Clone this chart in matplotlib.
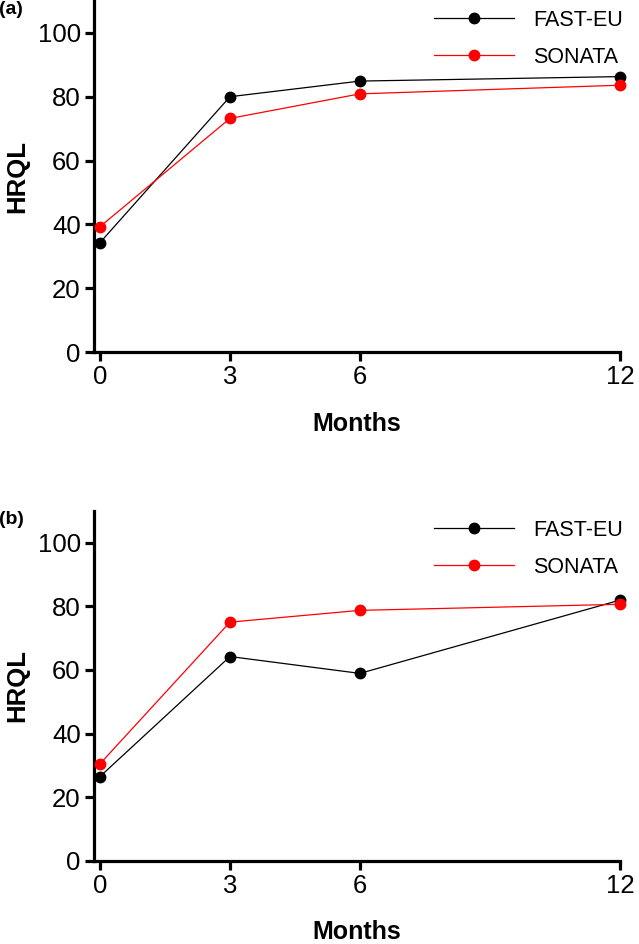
import matplotlib.pyplot as plt

months = [0, 3, 6, 12]

# panel (a)
fast_eu_a = [34.3, 80.0, 84.9, 86.3]
sonata_a = [39.3, 73.2, 80.9, 83.6]

# panel (b)
fast_eu_b = [26.5, 64.2, 58.9, 81.9]
sonata_b = [30.5, 75.0, 78.7, 80.6]

panel_labels = ["(a)", "(b)"]

plt.rcParams["font.family"] = ["Liberation Sans", "DejaVu Sans"]

fig = plt.figure(figsize=(6.39, 9.44), dpi=100)
ax_a = fig.add_axes([0.147, 0.627, 0.823, 0.372])
ax_b = fig.add_axes([0.147, 0.088, 0.823, 0.371])


def draw_panel(ax, fast_eu, sonata, label):
    ax.plot(months, fast_eu, color="black", lw=0.9, marker="o", ms=7.5,
            label="FAST-EU", clip_on=False, zorder=3)
    ax.plot(months, sonata, color="#ff0000", lw=0.9, marker="o", ms=7.5,
            label="SONATA", clip_on=False, zorder=3)

    ax.set_xlim(-0.14, 12)
    ax.set_ylim(0, 110)
    ax.set_xticks(months)
    ax.set_yticks([0, 20, 40, 60, 80, 100])

    for side in ["top", "right"]:
        ax.spines[side].set_visible(False)
    for side in ["left", "bottom"]:
        ax.spines[side].set_linewidth(2.3)

    ax.tick_params(axis="both", width=2.3, length=6.5, labelsize=18.5,
                   direction="out", pad=3)
    ax.set_xlabel("Months", fontsize=18, fontweight="bold", labelpad=16)
    ax.set_ylabel("HRQL", fontsize=18.5, fontweight="bold", labelpad=6)

    ax.legend(loc="upper right", frameon=False, fontsize=15.5,
              handlelength=3.7, handletextpad=0.9, labelspacing=0.75,
              bbox_to_anchor=(1.043, 1.03))

    ax.text(-0.18, 1.0, label, transform=ax.transAxes, fontsize=14,
            fontweight="bold", ha="left", va="top")


draw_panel(ax_a, fast_eu_a, sonata_a, panel_labels[0])
draw_panel(ax_b, fast_eu_b, sonata_b, panel_labels[1])

fig.savefig("out.png", dpi=100)
